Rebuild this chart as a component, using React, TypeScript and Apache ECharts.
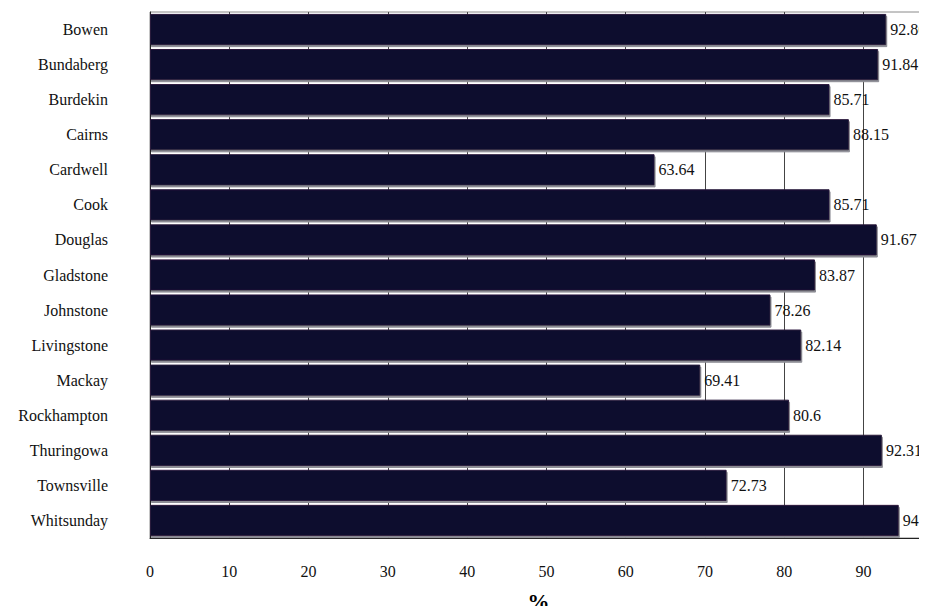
import React, { useEffect, useRef } from "react";
import * as echarts from "echarts";

const categories = [
  "Bowen", "Bundaberg", "Burdekin", "Cairns", "Cardwell", "Cook", "Douglas",
  "Gladstone", "Johnstone", "Livingstone", "Mackay", "Rockhampton",
  "Thuringowa", "Townsville", "Whitsunday",
];
const values = [
  92.86, 91.84, 85.71, 88.15, 63.64, 85.71, 91.67,
  83.87, 78.26, 82.14, 69.41, 80.6, 92.31, 72.73, 94.44,
];
const axisTitle = "%";

export default function App() {
  const ref = useRef<HTMLDivElement>(null);
  useEffect(() => {
    if (!ref.current) return;
    const chart = echarts.init(ref.current, null, { renderer: "svg" });
    const font = "Liberation Serif";
    chart.setOption({
      animation: false,
      backgroundColor: "#ffffff",
      textStyle: { fontFamily: font },
      grid: {
        left: 150,
        right: 0,
        top: 12,
        bottom: 76,
        show: true,
        borderColor: "#8a8a8a",
        borderWidth: 1,
        containLabel: false,
        outerBoundsMode: "none",
      },
      xAxis: {
        type: "value",
        min: 0,
        max: 98,
        interval: 10,
        name: axisTitle,
        nameLocation: "middle",
        nameGap: 52,
        nameTextStyle: { fontFamily: font, fontSize: 22, fontWeight: "bold", color: "#000" },
        axisLine: { show: true, lineStyle: { color: "#222", width: 1 } },
        axisTick: { show: true, inside: true, length: 4, lineStyle: { color: "#222" } },
        axisLabel: {
          showMaxLabel: false,
          margin: 25,
          fontFamily: font,
          fontSize: 16,
          color: "#111",
        },
        splitLine: { show: true, lineStyle: { color: "#444", width: 1 } },
      },
      yAxis: {
        type: "category",
        data: categories,
        inverse: true,
        axisLine: { show: true, lineStyle: { color: "#222" } },
        axisTick: { show: false },
        axisLabel: {
          margin: 42,
          fontFamily: font,
          fontSize: 16,
          color: "#111",
        },
        splitLine: { show: false },
      },
      series: [
        {
          type: "bar",
          data: values,
          barCategoryGap: "11%",
          itemStyle: {
            color: "#0c0b2e",
            borderColor: "#2b1a3c",
            borderWidth: 1,
            shadowColor: "#8c8c94",
            shadowOffsetX: 1,
            shadowOffsetY: 2,
            shadowBlur: 0,
          },
          label: {
            show: true,
            position: "right",
            distance: 4,
            fontFamily: font,
            fontSize: 16,
            color: "#111",
          },
        },
      ],
    });
    return () => chart.dispose();
  }, []);
  return <div ref={ref} style={{ width: 927, height: 614, margin: -8 }} />;
}
